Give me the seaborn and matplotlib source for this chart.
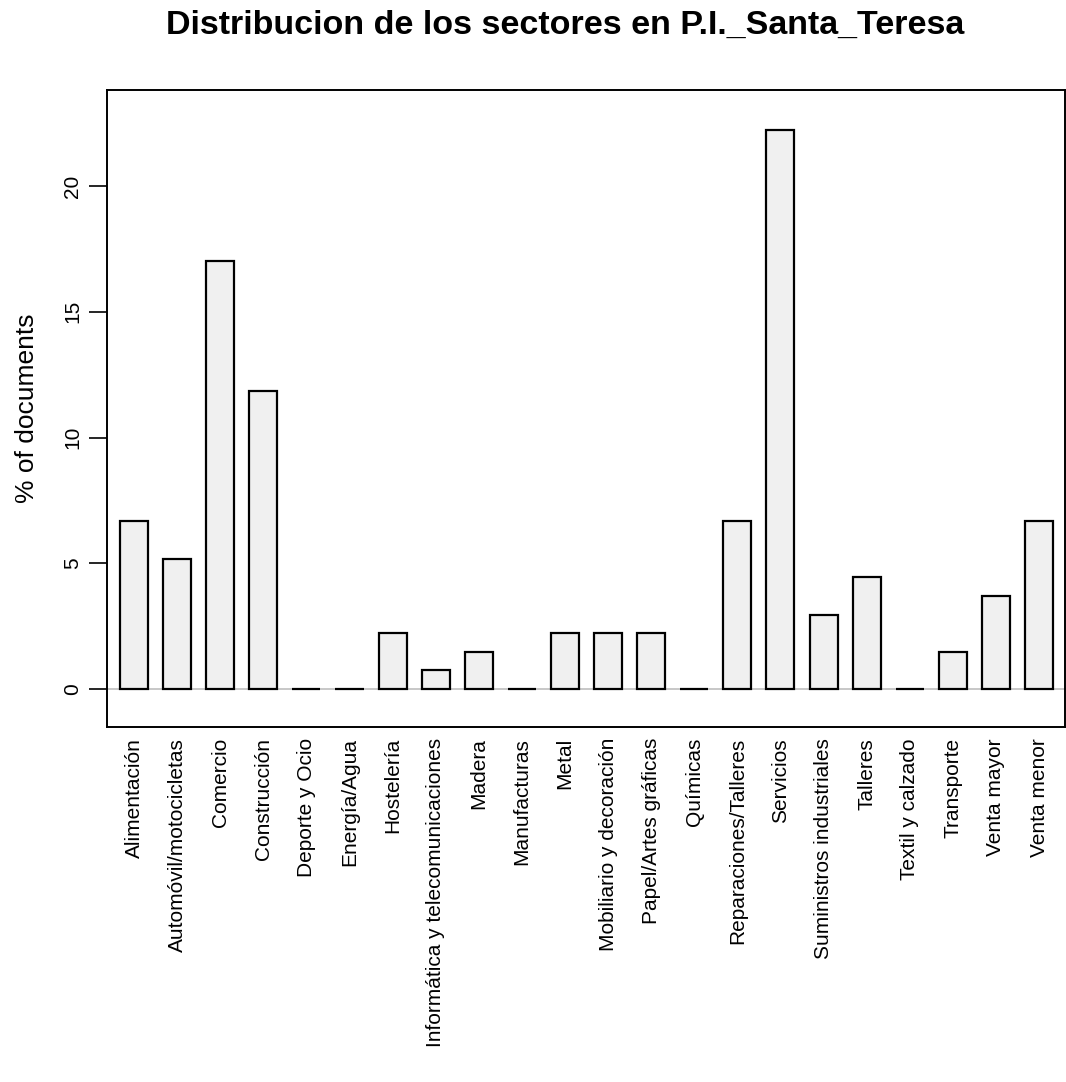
import matplotlib
matplotlib.use("Agg")
import matplotlib.pyplot as plt
import seaborn as sns
import pandas as pd

sectores = [
    "Alimentación", "Automóvil/motocicletas", "Comercio", "Construcción",
    "Deporte y Ocio", "Energía/Agua", "Hostelería",
    "Informática y telecomunicaciones", "Madera", "Manufacturas", "Metal",
    "Mobiliario y decoración", "Papel/Artes gráficas", "Químicas",
    "Reparaciones/Talleres", "Servicios", "Suministros industriales",
    "Talleres", "Textil y calzado", "Transporte", "Venta mayor", "Venta menor",
]
porcentaje = [
    6.67, 5.19, 17.04, 11.85, 0.0, 0.0, 2.22, 0.74, 1.48, 0.0, 2.22,
    2.22, 2.22, 0.0, 6.67, 22.22, 2.96, 4.44, 0.0, 1.48, 3.70, 6.67,
]
y_ticks = [0, 5, 10, 15, 20]

df = pd.DataFrame({"sector": sectores, "pct": porcentaje})

sns.set_style("white")
plt.rcParams["font.family"] = ["Liberation Sans", "DejaVu Sans"]

fig = plt.figure(figsize=(10.66, 10.82), dpi=100)
ax = fig.add_axes([0.1004, 0.3281, 0.8986, 0.5887])

ax.axhline(0, color="#bdbdbd", lw=1.2, zorder=0)
sns.barplot(data=df, x="sector", y="pct", order=sectores, color="#f0f0f0",
            saturation=1, width=0.65, edgecolor="black", linewidth=1.6,
            ax=ax, zorder=2)

ax.set_xlim(-0.626, 21.6)
ax.set_ylim(-1.51, 23.82)
ax.set_yticks(y_ticks)
ax.set_yticklabels([str(t) for t in y_ticks], rotation=90, va="center",
                   fontsize=15, color="black")
ax.tick_params(axis="y", direction="out", length=13, width=1.2, pad=5,
               left=True, color="black")
ax.tick_params(axis="x", length=0, pad=8)
ax.set_xticks(range(len(sectores)))
ax.set_xticklabels(sectores, rotation=90, fontsize=15, color="black")
ax.set_xlabel("")
ax.set_ylabel("% of documents", fontsize=19, color="black")
ax.yaxis.set_label_coords(-0.071, 0.5)

for s in ax.spines.values():
    s.set_visible(True)
    s.set_color("black")
    s.set_linewidth(1.4)

fig.text(565 / 1066, 1 - 25 / 1082, "Distribucion de los sectores en P.I._Santa_Teresa",
         ha="center", va="center", fontsize=24.5, fontweight="bold", color="black")

fig.savefig("out.png", dpi=100, facecolor="white")
